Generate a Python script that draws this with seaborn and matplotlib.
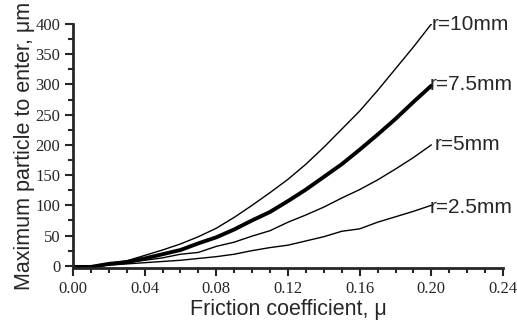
import numpy as np
import pandas as pd
import matplotlib
matplotlib.use("Agg")
import matplotlib.pyplot as plt
import seaborn as sns
from matplotlib.ticker import MultipleLocator, FormatStrFormatter

# friction coefficient values
mu = [0.00, 0.01, 0.02, 0.03, 0.04, 0.05, 0.06, 0.07, 0.08, 0.09, 0.10,
      0.11, 0.12, 0.13, 0.14, 0.15, 0.16, 0.17, 0.18, 0.19, 0.20]

# max particle size (um) for each radius
r10 = [-3, -3, 4, 8, 17, 26, 36, 48, 62, 80, 100,
       121, 143, 168, 196, 226, 256, 290, 326, 362, 400]
r75 = [-2, -2, 3, 6, 12, 19, 26, 37, 47, 60, 75,
       89, 107, 126, 147, 168, 192, 217, 243, 271, 298]
r5 = [-2, -2, 2, 5, 9, 13, 19, 22, 32, 39, 49,
      58, 72, 84, 97, 112, 126, 142, 160, 179, 200]
r25 = [-2, -2, 1, 3, 5, 7, 9, 12, 15, 19, 25,
       30, 34, 41, 48, 57, 61, 72, 81, 90, 100]

labels = ["r=10mm", "r=7.5mm", "r=5mm", "r=2.5mm"]
series = [r10, r75, r5, r25]
widths = [1.0, 2.8, 1.0, 1.0]
label_pos = [(0.200, 400), (0.199, 300), (0.202, 200), (0.199, 96)]

sns.set_style("ticks")
fig = plt.figure(figsize=(5.17, 3.29), dpi=100)
ax = fig.add_axes([0.141, 0.185, 0.832, 0.742])

for lab, vals, lw in zip(labels, series, widths):
    df = pd.DataFrame({"mu": mu, "size": vals})
    sns.lineplot(data=df, x="mu", y="size", color="black", lw=lw, ax=ax)

for lab, (x, y) in zip(labels, label_pos):
    ax.text(x, y, lab, ha="left", va="center", fontsize=15,
            family="Liberation Sans")

ax.set_xlim(0, 0.24)
ax.set_ylim(-4, 400)
ax.xaxis.set_major_locator(MultipleLocator(0.04))
ax.xaxis.set_minor_locator(MultipleLocator(0.01))
ax.yaxis.set_major_locator(MultipleLocator(50))
ax.yaxis.set_minor_locator(MultipleLocator(25))
ax.xaxis.set_major_formatter(FormatStrFormatter("%.2f"))

for t in ax.get_xticklabels() + ax.get_yticklabels():
    t.set_family("Liberation Serif")
    t.set_fontsize(12)

ax.tick_params(which="major", length=6, width=1.5, direction="out", pad=3)
ax.tick_params(which="minor", length=3.5, width=1.5, direction="out")

ax.set_xlabel("Friction coefficient, μ", fontsize=15.5, family="Liberation Sans", labelpad=2)
ax.set_ylabel("Maximum particle to enter, μm", fontsize=15.5, family="Liberation Sans", labelpad=0)

sns.despine(ax=ax)
ax.spines["left"].set_bounds(0, 400)
ax.spines["left"].set_linewidth(2)
ax.spines["bottom"].set_linewidth(2)

fig.savefig("out.png", dpi=100)
